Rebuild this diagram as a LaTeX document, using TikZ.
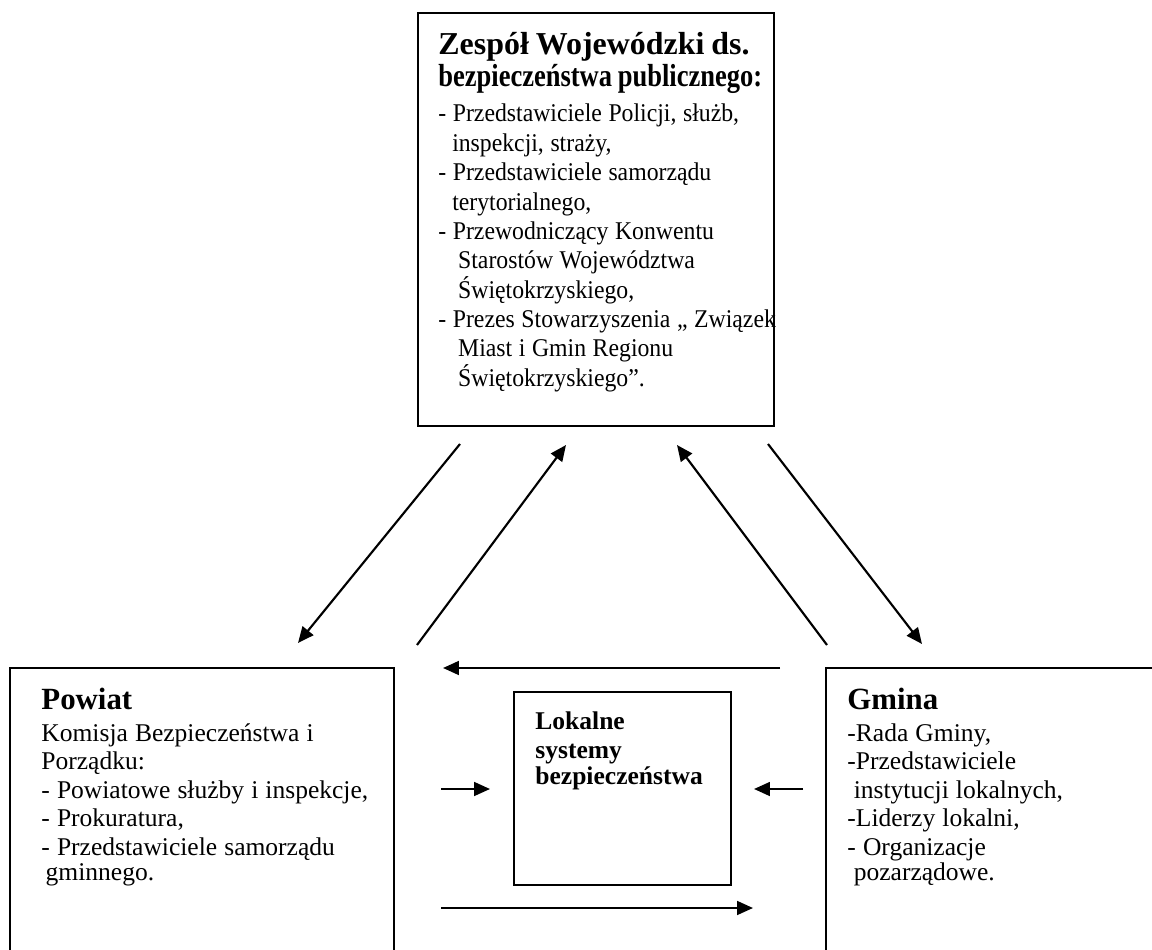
\documentclass[tikz,border=0pt]{standalone}
\usepackage{fontspec}
\setmainfont{Liberation Serif}
\usetikzlibrary{arrows.meta,fit}
\begin{document}
\begin{tikzpicture}[x=0.47pt,y=-0.47pt,
  box/.style={draw, line width=1pt, inner sep=0pt},
  txt/.style={anchor=base west, inner sep=0pt, align=left, text width=200pt},
  arr/.style={line width=1pt, -{Triangle[length=7.5pt,width=6.5pt]}}]
\useasboundingbox (0,0) rectangle (1152,950);
\clip (0,0) rectangle (1152,950);
% boxes
\node[box, fit={(418,13)(774,426)}] (zesp) {};
\node[box, fit={(10,668)(394,980)}] (powiat) {};
\node[box, fit={(826,668)(1180,980)}] (gmina) {};
\node[box, fit={(514,692)(731,885)}] (lokal) {};
% texts
\node[txt] (zespt) at (438,55) {\fontsize{15}{16.8}\selectfont\bfseries Zespół Wojewódzki ds.\\\scalebox{0.83}[1]{bezpieczeństwa publicznego:}};
\node[txt, xscale=0.93, transform shape] (zespb) at (438,122) {\fontsize{12}{13.8}\selectfont
- Przedstawiciele Policji, służb,\\
\hspace*{7pt}inspekcji, straży,\\
- Przedstawiciele samorządu\\
\hspace*{7pt}terytorialnego,\\
- Przewodniczący Konwentu\\
\hspace*{10pt}Starostów Województwa\\
\hspace*{10pt}Świętokrzyskiego,\\
- Prezes Stowarzyszenia „ Związek\\
\hspace*{10pt}Miast i Gmin Regionu\\
\hspace*{10pt}Świętokrzyskiego”.};
\node[txt] (powiatt) at (41,709) {{\fontsize{14.5}{16.45}\selectfont\bfseries Powiat\par}\vspace{1.7pt}%
\fontsize{12}{13.4}\selectfont
Komisja Bezpieczeństwa i\\
Porządku:\\
- Powiatowe służby i inspekcje,\\
- Prokuratura,\\
- Przedstawiciele samorządu\\
\hspace*{2pt}gminnego.};
\node[txt] (gminat) at (847,709) {{\fontsize{14.5}{16.45}\selectfont\bfseries Gmina\par}\vspace{1.7pt}%
\fontsize{12}{13.4}\selectfont
-Rada Gminy,\\
-Przedstawiciele\\
\hspace*{3pt}instytucji lokalnych,\\
-Liderzy lokalni,\\
- Organizacje\\
\hspace*{3pt}pozarządowe.};
\node[txt] (lokalt) at (535,729) {\fontsize{12}{14.1}\selectfont\bfseries Lokalne\\systemy\\bezpieczeństwa};
% connector coordinates
\coordinate (a1s) at (460,444); \coordinate (a1e) at (298,643);
\coordinate (a2s) at (417,645); \coordinate (a2e) at (566,445);
\coordinate (a3s) at (827,645); \coordinate (a3e) at (677,445);
\coordinate (a4s) at (768,444); \coordinate (a4e) at (922,644);
\coordinate (h1s) at (780,668); \coordinate (h1e) at (443,668);
\coordinate (h2s) at (441,789); \coordinate (h2e) at (490,789);
\coordinate (h3s) at (803,789); \coordinate (h3e) at (754,789);
\coordinate (h4s) at (441,908); \coordinate (h4e) at (753,908);
\draw[arr] (a1s) -- (a1e);
\draw[arr] (a2s) -- (a2e);
\draw[arr] (a3s) -- (a3e);
\draw[arr] (a4s) -- (a4e);
\draw[arr] (h1s) -- (h1e);
\draw[arr] (h2s) -- (h2e);
\draw[arr] (h3s) -- (h3e);
\draw[arr] (h4s) -- (h4e);
\end{tikzpicture}
\end{document}
